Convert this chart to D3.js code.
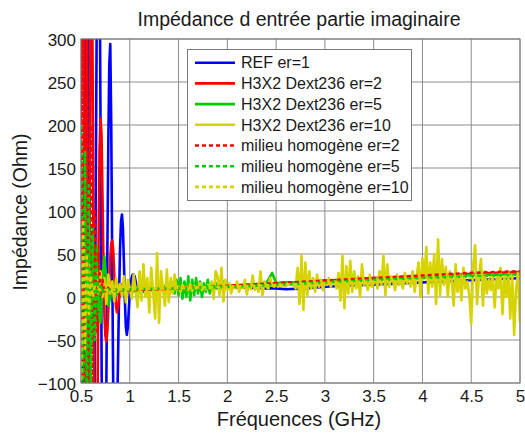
<!DOCTYPE html>
<html>
<head>
<meta charset="utf-8">
<script src="https://cdn.jsdelivr.net/npm/d3@7"></script>
<style>
  body { margin: 0; background: #fff; }
  text { font-family: "Liberation Sans", Arial, sans-serif; fill: #1a1a1a; }
</style>
</head>
<body>
<svg id="chart" width="525" height="433"></svg>
<script>
// Axis ticks
var xTicks = [0.5, 1, 1.5, 2, 2.5, 3, 3.5, 4, 4.5, 5];
var yTicks = [-100, -50, 0, 50, 100, 150, 200, 250, 300];

// REF er=1 (blue), 0.01 GHz steps up to 1.10 then coarse points
var refFreq = d3.range(50, 111).map(function (k) { return k / 100; })
  .concat([1.2, 1.4, 1.6, 1.8, 2.0, 2.2, 2.4, 2.5, 2.6, 2.8, 3.0, 3.2, 3.4, 3.6, 3.8, 4.0, 4.2, 4.4, 4.6, 4.8, 5.0]);
var refVal = [
  -350, -250, -100, 50, 200, 350, 480, 350, 100, -150,
  -300, -380, -350, -250, -100, 100, 300, 450, 520, 420,
  200, -50, -250, -350, -330, -230, -100, 50, 180, 270,
  294, 200, 40, -100, -180, -200, -190, -140, -70, 0,
  55, 88, 96, 80, 40, -5, -35, -44, -35, -15,
  5, 17, 23, 26, 26, 24, 18, 12, 7, 5,
  5,
  8, 9, 9, 10, 11, 11, 10, 10, 9, 10, 12, 13, 14, 15, 16, 17, 18, 19, 20, 21, 22
];

// H3X2 Dext236 er=2 (red solid)
var h2Freq = d3.range(50, 101).map(function (k) { return k / 100; })
  .concat([1.2, 1.5, 2.0, 2.5, 3.0, 3.5, 4.0, 4.5, 5.0]);
var h2Val = [
  200, 400, 480, 350, 100, -150, -320, -350, -150, 150,
  380, 420, 250, 0, -220, -320, -280, -120, 60, 170,
  208, 190, 120, 40, -20, -45, -52, -40, -15, 15,
  45, 62, 66, 55, 30, 5, -12, -18, -12, -2,
  8, 14, 15, 11, 6, 3, 3, 6, 8, 9, 8,
  9, 10, 13, 16, 19, 22, 24, 27, 29
];

// H3X2 Dext236 er=5 (green solid), 0.02 GHz steps up to 2.0 then coarse
var h5Freq = d3.range(25, 101).map(function (k) { return k / 50; })
  .concat([2.2, 2.4, 2.46, 2.5, 2.6, 2.8, 3.0, 3.2, 3.4, 3.6, 3.62, 3.66, 3.8, 4.0, 4.2, 4.4, 4.6, 4.8, 5.0]);
var h5Val = [
  90, -70, 110, -80, 100, -60, 80, -45, 60, -20,
  -30, 20, 47, 20, -10, 0, 18, 12, 2, 8,
  14, 10, 4, 9, 12, 8, 10, 6, 12, 8,
  10, 7, 12, 9, 11, 6, 13, 8, 10, 12,
  7, 11, 9, 13, 8, 12, 6, 16, 4, 20,
  2, 22, -2, 18, 0, 24, -4, 20, 2, 22,
  4, 18, 0, 16, 6, 20, 4, 14, 8, 16,
  10, 14, 12, 18, 11, 13,
  14, 16, 28, 16, 17, 17, 18, 19, 20, 21, 26, 21, 22, 23, 24, 25, 26, 26, 27
];

// H3X2 Dext236 er=10 (yellow solid), 0.02 GHz steps over the whole band
var h10Freq = d3.range(25, 251).map(function (k) { return k / 50; });
var h10Val = [
  80, -45, 55, -30, 42, -20, 35, -10, 28, 2,
  30, 0, 22, -8, 26, 4, 18, -5, 22, 6,
  15, 2, 24, -6, 20, 10, -2, 26, 8, -12,
  30, -4, 38, 0, 22, -18, 34, 5, -25, 51,
  -30, 30, 10, -10, 32, -6, 22, 4, 26, 8,
  12, 6, 14, 9, 12, 8, 15, 7, 13, 10,
  11, 16, 8, 12, 9, 14, 10, 18, -2, 30,
  24, 2, 34, -5, 20, 8, 16, 4, 14, 10,
  18, 6, 14, 10, 20, 3, 15, 9, 25, 8,
  14, 6, 30, 2, 18, 12, 10, 22, 13, 12,
  14, 12, 15, 13, 14, 12, 16, 14, 15, 13,
  10, 34, -8, 48, -15, 40, 2, 30, 10, 22,
  6, 26, 12, 20, 8, 18, 14, 22, 12, 17,
  18, 10, 28, -4, 48, -13, 36, 4, 42, 6,
  30, 10, 24, 0, 38, 14, 20, 8, 26, 12,
  16, 22, 10, 30, 14, 48, 2, 38, 12, 24,
  18, 8, 26, 14, 20, 10, 28, 16, 22, 12,
  30, 6, 24, 40, 0, 45, 22, 58, 4, 40,
  12, 50, -8, 67, 2, 44, 14, 35, 0, 30,
  20, -10, 38, 6, 26, -4, 34, 10, 18, 2,
  -31, 36, 60, -8, 24, 44, -10, 30, 4, 20,
  8, 28, -12, 22, 10, 34, -20, 24, 0, 30,
  -25, 26, -44, 10, 28, -30
];

// milieu homogène er=2 (red dashed)
var m2Freq = d3.range(25, 39).map(function (k) { return k / 50; })
  .concat([0.8, 0.9, 1.0, 1.5, 2.0, 2.5, 3.0, 3.5, 4.0, 4.5, 5.0]);
var m2Val = [
  -150, 350, -300, 300, -250, 200, -120, 100, -40, 50, 0, 20, 5, 12,
  8, 8, 8, 10, 13, 16, 19, 22, 25, 28, 30
];

// milieu homogène er=5 (green dashed)
var m5Freq = d3.range(25, 38).map(function (k) { return k / 50; })
  .concat([0.8, 1.0, 1.5, 2.0, 2.5, 3.0, 3.5, 4.0, 4.5, 5.0]);
var m5Val = [
  200, -200, 170, -150, 130, -100, 70, -50, 40, -15, 15, 5, 10,
  8, 9, 10, 12, 14, 17, 20, 22, 24, 26
];

// milieu homogène er=10 (yellow dashed)
var m10Freq = d3.range(25, 33).map(function (k) { return k / 50; })
  .concat([0.7, 1.0, 2.0, 3.0, 4.0, 5.0]);
var m10Val = [
  -120, 90, -60, 50, -20, 25, 0, 12,
  8, 9, 12, 16, 20, 24
];

var seriesNames = [
  "REF er=1",
  "H3X2 Dext236 er=2",
  "H3X2 Dext236 er=5",
  "H3X2 Dext236 er=10",
  "milieu homogène er=2",
  "milieu homogène er=5",
  "milieu homogène er=10"
];

function draw_chart() {
  var series = [
    { name: seriesNames[0], f: refFreq, v: refVal, color: "#0000ff", dash: null },
    { name: seriesNames[1], f: h2Freq, v: h2Val, color: "#ff0000", dash: null },
    { name: seriesNames[2], f: h5Freq, v: h5Val, color: "#00cc00", dash: null },
    { name: seriesNames[3], f: h10Freq, v: h10Val, color: "#d6d300", dash: null },
    { name: seriesNames[4], f: m2Freq, v: m2Val, color: "#ff0000", dash: "4,3" },
    { name: seriesNames[5], f: m5Freq, v: m5Val, color: "#00cc00", dash: "4,3" },
    { name: seriesNames[6], f: m10Freq, v: m10Val, color: "#d6d300", dash: "4,3" }
  ];

  var svg = d3.select("#chart");
  var pLeft = 81, pRight = 520, pTop = 39, pBottom = 383;

  var x = d3.scaleLinear().domain([0.5, 5]).range([pLeft, pRight]);
  var y = d3.scaleLinear().domain([-100, 300]).range([pBottom, pTop]);

  svg.append("defs").append("clipPath").attr("id", "plot-clip")
    .append("rect")
    .attr("x", pLeft).attr("y", pTop)
    .attr("width", pRight - pLeft).attr("height", pBottom - pTop);

  // Grid
  var grid = svg.append("g").attr("class", "grid");
  grid.selectAll("line.vx")
    .data(xTicks)
    .enter().append("line")
    .attr("x1", function (d) { return x(d); })
    .attr("x2", function (d) { return x(d); })
    .attr("y1", pTop).attr("y2", pBottom)
    .attr("stroke", "#8c8c8c").attr("stroke-width", 1);
  grid.selectAll("line.hy")
    .data(yTicks)
    .enter().append("line")
    .attr("y1", function (d) { return y(d); })
    .attr("y2", function (d) { return y(d); })
    .attr("x1", pLeft).attr("x2", pRight)
    .attr("stroke", "#8c8c8c").attr("stroke-width", 1);

  // Lines
  var line = d3.line()
    .x(function (d) { return x(d[0]); })
    .y(function (d) { return y(d[1]); });

  var lines = svg.append("g").attr("clip-path", "url(#plot-clip)");
  series.forEach(function (s) {
    var pts = s.f.map(function (f, i) { return [f, s.v[i]]; });
    lines.append("path")
      .datum(pts)
      .attr("d", line)
      .attr("fill", "none")
      .attr("stroke", s.color)
      .attr("stroke-width", 2.6)
      .attr("stroke-linejoin", "round")
      .attr("stroke-dasharray", s.dash);
  });

  // Box
  svg.append("rect")
    .attr("x", pLeft).attr("y", pTop)
    .attr("width", pRight - pLeft).attr("height", pBottom - pTop)
    .attr("fill", "none").attr("stroke", "#7a7a7a").attr("stroke-width", 1);

  // Tick labels
  var xAxis = d3.axisBottom(x).tickValues(xTicks).tickSize(0).tickPadding(0)
    .tickFormat(function (d) { return String(d); });
  var gx = svg.append("g").attr("transform", "translate(0," + pBottom + ")").call(xAxis);
  gx.select(".domain").remove();
  gx.selectAll("text")
    .attr("y", 19).attr("dy", null)
    .style("font-size", "17px")
    .style("font-family", "Liberation Sans, Arial, sans-serif")
    .attr("fill", "#1a1a1a");

  var yAxis = d3.axisLeft(y).tickValues(yTicks).tickSize(0).tickPadding(0);
  var gy = svg.append("g").attr("transform", "translate(" + (pLeft - 5) + ",0)").call(yAxis);
  gy.select(".domain").remove();
  gy.selectAll("text")
    .attr("x", 0).attr("dy", "0.36em")
    .style("font-size", "17px")
    .style("font-family", "Liberation Sans, Arial, sans-serif")
    .attr("fill", "#1a1a1a");

  // Titles
  svg.append("text")
    .attr("x", 299).attr("y", 25.5)
    .attr("text-anchor", "middle")
    .style("font-size", "19.5px")
    .text("Impédance d entrée partie imaginaire");

  svg.append("text")
    .attr("x", 299).attr("y", 425.5)
    .attr("text-anchor", "middle")
    .style("font-size", "20px")
    .text("Fréquences (GHz)");

  svg.append("text")
    .attr("transform", "translate(27,212) rotate(-90)")
    .attr("text-anchor", "middle")
    .style("font-size", "19.5px")
    .text("Impédance (Ohm)");

  // Legend
  var legend = svg.append("g");
  legend.append("rect")
    .attr("x", 187.5).attr("y", 49.5)
    .attr("width", 224).attr("height", 151)
    .attr("fill", "#fff").attr("stroke", "#7a7a7a").attr("stroke-width", 1);

  var rows = legend.selectAll("g.row")
    .data(series)
    .enter().append("g")
    .attr("transform", function (d, i) { return "translate(0," + (62.7 + i * 20.7) + ")"; });

  rows.append("line")
    .attr("x1", 195).attr("x2", 235)
    .attr("y1", 0).attr("y2", 0)
    .attr("stroke", function (d) { return d.color; })
    .attr("stroke-width", 2.6)
    .attr("stroke-dasharray", function (d) { return d.dash; });

  rows.append("text")
    .attr("x", 241).attr("y", 0).attr("dy", "0.36em")
    .style("font-size", "16px")
    .text(function (d) { return d.name; });
}

draw_chart();
</script>
</body>
</html>
